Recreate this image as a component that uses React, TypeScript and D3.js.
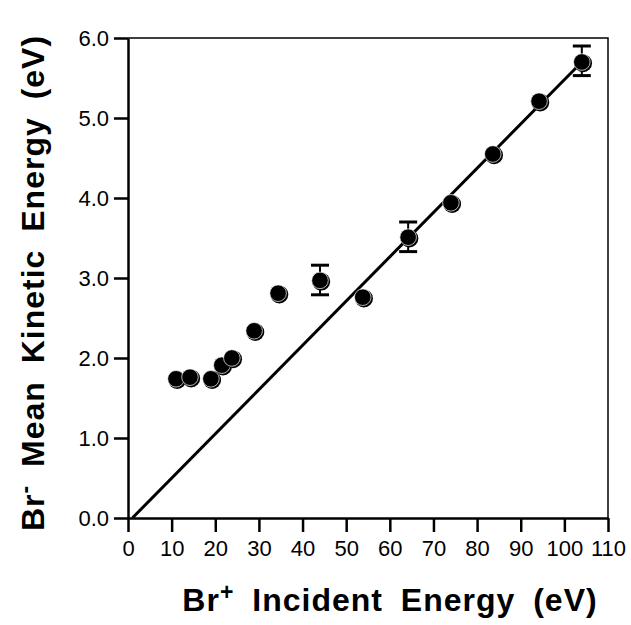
import React, { useRef, useEffect } from 'react';
import * as d3 from 'd3';

// Br+ incident energy (eV) vs Br- mean kinetic energy (eV)
const incident = [11.0, 14.2, 19.0, 21.5, 23.8, 28.9, 34.4, 44.0, 53.8, 64.2, 74.0, 83.6, 94.2, 104.0];
const meanKE = [1.74, 1.76, 1.74, 1.91, 2.0, 2.34, 2.81, 2.97, 2.76, 3.51, 3.94, 4.55, 5.21, 5.7];

// error bars (only three points have them)
const errX = [44.0, 64.2, 104.0];
const errLo = [2.79, 3.33, 5.53];
const errHi = [3.16, 3.7, 5.9];

// straight line through the data
const fitX = [1.0, 104.0];
const fitY = [0.0, 5.7];

const xTicks = [0, 10, 20, 30, 40, 50, 60, 70, 80, 90, 100, 110];
const yTicks = [0, 1, 2, 3, 4, 5, 6];

const FONT = '"Liberation Sans", Arial, Helvetica, sans-serif';

const App = () => {
  const svgRef = useRef<SVGSVGElement>(null);

  useEffect(() => {
    const svg = d3.select(svgRef.current);
    svg.selectAll('*').remove();

    const margin = { top: 38, right: 23, bottom: 107, left: 128 };
    const W = 631;
    const H = 625;
    const width = W - margin.left - margin.right;
    const height = H - margin.top - margin.bottom;

    const x = d3.scaleLinear().domain([0, 110]).range([0, width]);
    const y = d3.scaleLinear().domain([0, 6]).range([height, 0]);

    const g = svg.append('g').attr('transform', `translate(${margin.left},${margin.top})`);

    // frame (top and right)
    g.append('path')
      .attr('d', `M0,0H${width}V${height}`)
      .attr('fill', 'none')
      .attr('stroke', '#000')
      .attr('stroke-width', 1.5);

    // axes
    const xAxis = g.append('g')
      .attr('transform', `translate(0,${height})`)
      .call(d3.axisBottom(x).tickValues(xTicks).tickSize(14).tickSizeOuter(0).tickPadding(8).tickFormat(d3.format('d')));
    const yAxis = g.append('g')
      .call(d3.axisLeft(y).tickValues(yTicks).tickSize(14).tickSizeOuter(0).tickPadding(5).tickFormat(d3.format('.1f')));

    [xAxis, yAxis].forEach(a => {
      a.select('.domain').attr('stroke-width', 2.5);
      a.selectAll('.tick line').attr('stroke-width', 2.5);
      a.selectAll('.tick text')
        .attr('font-family', FONT)
        .attr('font-size', 22)
        .attr('fill', '#000');
    });

    // fit line
    const line = d3.line<number>()
      .x(i => x(fitX[i]))
      .y(i => y(fitY[i]));
    g.append('path')
      .datum(d3.range(fitX.length))
      .attr('fill', 'none')
      .attr('stroke', '#000')
      .attr('stroke-width', 3)
      .attr('d', line);

    // error bars
    const eb = g.selectAll('.eb')
      .data(errX.map((v, i) => ({ x: v, lo: errLo[i], hi: errHi[i] })))
      .enter().append('g')
      .attr('class', 'eb');
    eb.append('line')
      .attr('x1', d => x(d.x)).attr('x2', d => x(d.x))
      .attr('y1', d => y(d.lo)).attr('y2', d => y(d.hi))
      .attr('stroke', '#000').attr('stroke-width', 2);
    eb.append('line')
      .attr('x1', d => x(d.x) - 9).attr('x2', d => x(d.x) + 9)
      .attr('y1', d => y(d.hi)).attr('y2', d => y(d.hi))
      .attr('stroke', '#000').attr('stroke-width', 3);
    eb.append('line')
      .attr('x1', d => x(d.x) - 9).attr('x2', d => x(d.x) + 9)
      .attr('y1', d => y(d.lo)).attr('y2', d => y(d.lo))
      .attr('stroke', '#000').attr('stroke-width', 3);

    // points: shadow + main disc with a thin white rim
    const pts = incident.map((v, i) => ({ x: v, y: meanKE[i] }));
    const dot = g.selectAll('.dot')
      .data(pts)
      .enter().append('g')
      .attr('class', 'dot');
    dot.append('circle')
      .attr('cx', d => x(d.x) + 1.2)
      .attr('cy', d => y(d.y) + 1.2)
      .attr('r', 9)
      .attr('fill', '#000');
    dot.append('circle')
      .attr('cx', d => x(d.x))
      .attr('cy', d => y(d.y))
      .attr('r', 8.3)
      .attr('fill', '#000')
      .attr('stroke', '#fff')
      .attr('stroke-width', 0.7);

    // axis titles
    const xt = svg.append('text')
      .attr('x', 390)
      .attr('y', 611)
      .attr('text-anchor', 'middle')
      .attr('font-family', FONT)
      .attr('font-weight', 'bold')
      .attr('font-size', 32)
      .attr('letter-spacing', 1)
      .attr('word-spacing', 8)
      .attr('fill', '#000');
    xt.append('tspan').text('Br');
    xt.append('tspan').attr('dy', -11).attr('font-size', 23).text('+');
    xt.append('tspan').attr('dy', 11).text(' Incident Energy (eV)');

    const yt = svg.append('text')
      .attr('transform', `translate(44,283) rotate(-90)`)
      .attr('text-anchor', 'middle')
      .attr('font-family', FONT)
      .attr('font-weight', 'bold')
      .attr('font-size', 32)
      .attr('letter-spacing', 1)
      .attr('word-spacing', 8)
      .attr('fill', '#000');
    yt.append('tspan').text('Br');
    yt.append('tspan').attr('dy', -11).attr('font-size', 23).text('-');
    yt.append('tspan').attr('dy', 11).text(' Mean Kinetic Energy (eV)');
  }, []);

  return (
    <svg
      ref={svgRef}
      width={631}
      height={625}
      style={{ position: 'absolute', left: 0, top: 0, background: '#fff' }}
    />
  );
};

export default App;
